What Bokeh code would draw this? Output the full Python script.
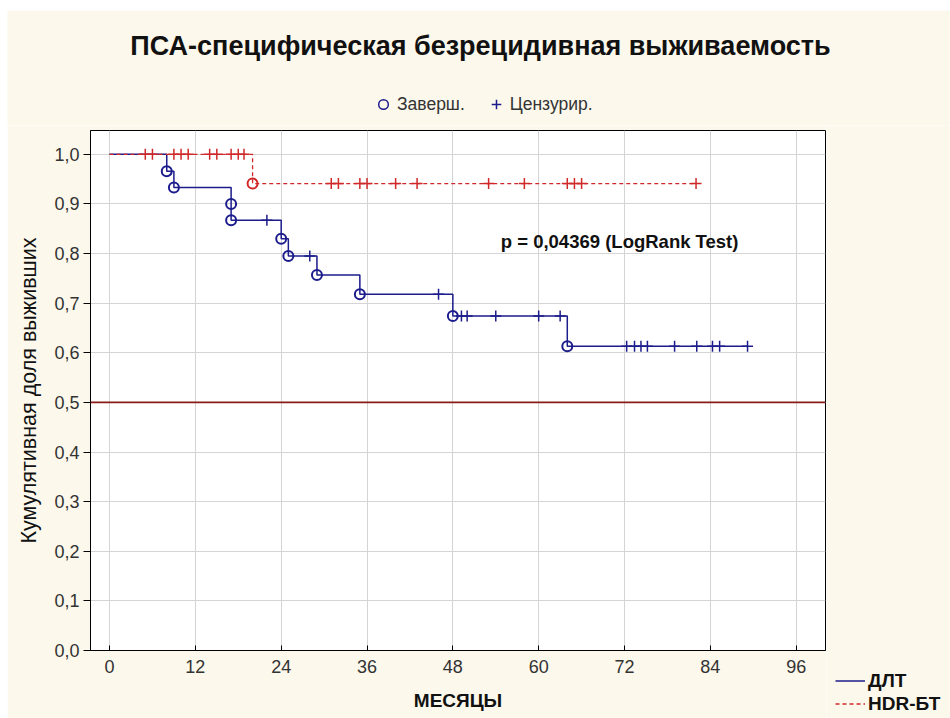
import numpy as np
from bokeh.plotting import figure
from bokeh.layouts import column, row
from bokeh.models import (Range1d, FixedTicker, Span, Label, Legend, LegendItem)
from bokeh.embed import file_html
from bokeh.resources import INLINE

FONT = "Liberation Sans"

# ДЛТ group: event times (months) and Kaplan-Meier estimate after each event
dlt_event_t = [8, 9, 17, 17, 24, 25, 29, 35, 48, 64]
dlt_event_s = [0.966, 0.933, 0.900, 0.867, 0.830, 0.795, 0.757, 0.718, 0.674, 0.613]
dlt_censor_t = [22, 28, 46, 49.2, 50, 54, 60, 63, 72.3, 73.4, 74.3, 75.2,
                79, 82.1, 84.3, 85.3, 89.2]
dlt_last = 89.2

# HDR-БТ group
hdr_event_t = [20]
hdr_event_s = [0.941]
hdr_censor_t = [5, 6, 9, 10, 11, 14, 15, 17, 18, 18.8, 31, 32, 35, 36, 40, 43,
                53, 58, 64, 65, 66, 82]
hdr_last = 82

x_ticks = [0, 12, 24, 36, 48, 60, 72, 84, 96]
y_ticks = [0.0, 0.1, 0.2, 0.3, 0.4, 0.5, 0.6, 0.7, 0.8, 0.9, 1.0]
y_tick_labels = ["0,0", "0,1", "0,2", "0,3", "0,4", "0,5", "0,6", "0,7", "0,8", "0,9", "1,0"]

title_text = "ПСА-специфическая безрецидивная выживаемость"
p_text = "p = 0,04369 (LogRank Test)"
median_level = 0.5

BLUE = "#1c1c8c"
RED = "#d02828"
CREAM = "#fcf8ec"

# legend keys sit at a point outside the visible range of their strip
OFF = [-50.0, -40.0]


def step_path(times, surv, last):
    xs, ys, cur = [0.0], [1.0], 1.0
    for t, s in zip(times, surv):
        xs += [t, t]
        ys += [cur, s]
        cur = s
    xs.append(last)
    ys.append(cur)
    return xs, ys


def surv_at(times, surv, t):
    cur = 1.0
    for tt, s in zip(times, surv):
        if tt <= t:
            cur = s
    return cur


def blank_panel(w, h):
    f = figure(width=w, height=h, x_range=Range1d(0, w), y_range=Range1d(0, h),
               x_axis_location=None, y_axis_location=None, min_border=0,
               min_border_left=0, min_border_right=0, min_border_top=0,
               min_border_bottom=0,
               outline_line_color=None, background_fill_color=CREAM,
               border_fill_color=CREAM, toolbar_location=None, output_backend="svg")
    f.grid.visible = False
    f.frame_align = False
    return f


# ---------- header: title and marker legend ----------
header = blank_panel(943, 115)
header.add_layout(Label(x=473, y=80, text=title_text, text_align="center",
                        text_baseline="middle", text_font=FONT, text_font_size="27px",
                        text_font_style="bold", text_color="#111111"))
key_event = header.scatter(OFF, OFF, marker="circle", size=8, fill_color=None,
                           line_color=BLUE, line_width=1.5)
key_cens = header.scatter(OFF, OFF, marker="cross", size=10, line_color=BLUE, line_width=1.5)
header.add_layout(Legend(items=[LegendItem(label="Заверш.", renderers=[key_event]),
                                LegendItem(label="Цензурир.", renderers=[key_cens])],
                         orientation="horizontal", location=(364, 9),
                         background_fill_alpha=0, border_line_color=None,
                         margin=0, padding=0, spacing=19, glyph_width=24, glyph_height=24,
                         label_height=24, label_standoff=2, label_text_font=FONT,
                         label_text_font_size="17.5px", label_text_color="#333333"))

# ---------- main survival plot ----------
p = figure(width=819, height=593, output_backend="svg", toolbar_location=None,
           x_range=Range1d(-2.66, 100.1), y_range=Range1d(0, 1.048),
           min_border_left=83, min_border_right=1, min_border_top=5,
           min_border_bottom=68, border_fill_color=CREAM,
           background_fill_color="white", outline_line_color="black",
           outline_line_width=1)
p.frame_align = False

p.xaxis.ticker = FixedTicker(ticks=x_ticks)
p.yaxis.ticker = FixedTicker(ticks=y_ticks)
p.yaxis.major_label_overrides = {t: l for t, l in zip(y_ticks, y_tick_labels)}
for ax in (p.xaxis[0], p.yaxis[0]):
    ax.axis_line_color = "black"
    ax.major_tick_line_color = "black"
    ax.minor_tick_line_color = None
    ax.major_label_text_font = FONT
    ax.major_label_text_font_size = "18px"
    ax.major_label_text_color = "#333333"
    ax.axis_label_text_font = FONT
    ax.axis_label_text_color = "#111111"
p.xaxis.major_tick_in = 5
p.xaxis.major_tick_out = 0
p.xaxis.major_label_standoff = 9
p.xaxis.axis_label = "МЕСЯЦЫ"
p.xaxis.axis_label_text_font_style = "bold"
p.xaxis.axis_label_text_font_size = "19px"
p.xaxis.axis_label_standoff = 14

p.yaxis.major_tick_in = 0
p.yaxis.major_tick_out = 7
p.yaxis.major_label_standoff = 4
p.yaxis.axis_label = "Кумулятивная доля выживших"
p.yaxis.axis_label_text_font_style = "normal"
p.yaxis.axis_label_text_font_size = "21.5px"
p.yaxis.axis_label_standoff = 10

p.xgrid.ticker = FixedTicker(ticks=x_ticks)
p.ygrid.ticker = FixedTicker(ticks=y_ticks)
p.xgrid.grid_line_color = "#d4d4d4"
p.ygrid.grid_line_color = "#d4d4d4"

# median reference line
p.add_layout(Span(location=median_level, dimension="width",
                  line_color="#8b1a1a", line_width=1.6))

# survival curves
dx, dy = step_path(dlt_event_t, dlt_event_s, dlt_last)
hx, hy = step_path(hdr_event_t, hdr_event_s, hdr_last)
p.line(dx, dy, line_color=BLUE, line_width=1.5)
p.line(hx, hy, line_color=RED, line_width=1.3, line_dash="4 3")

# complete (event) and censored observations
p.scatter(hdr_censor_t, [surv_at(hdr_event_t, hdr_event_s, t) for t in hdr_censor_t],
          marker="cross", size=11, line_color=RED, line_width=1.5)
p.scatter(hdr_event_t, hdr_event_s, marker="circle", size=10, fill_color=None,
          line_color=RED, line_width=2)
p.scatter(dlt_censor_t, [surv_at(dlt_event_t, dlt_event_s, t) for t in dlt_censor_t],
          marker="cross", size=11, line_color=BLUE, line_width=1.5)
p.scatter(dlt_event_t, dlt_event_s, marker="circle", size=10, fill_color=None,
          line_color=BLUE, line_width=2)

# test result
p.add_layout(Label(x=54.7, y=0.825, text=p_text, text_align="left",
                   text_baseline="middle", text_font=FONT, text_font_size="18.5px",
                   text_font_style="bold", text_color="#111111"))

# ---------- side strip: group legend at the lower right ----------
side = blank_panel(124, 593)
key_dlt = side.line(OFF, OFF, line_color=BLUE, line_width=1.5)
key_hdr = side.line(OFF, OFF, line_color=RED, line_width=1.3, line_dash="4 3")
side.add_layout(Legend(items=[LegendItem(label="ДЛТ", renderers=[key_dlt]),
                              LegendItem(label="HDR-БТ", renderers=[key_hdr])],
                       orientation="vertical", location=(9, 3),
                       background_fill_alpha=0, border_line_color=None,
                       margin=0, padding=0, spacing=0, glyph_width=30, glyph_height=23,
                       label_height=23, label_standoff=3, label_text_font=FONT,
                       label_text_font_size="19px", label_text_font_style="bold",
                       label_text_color="#111111"))

page = column(header, row(p, side))
page.margin = (10, 0, 0, 7)

open("out.html", "w").write(file_html(page, INLINE))
